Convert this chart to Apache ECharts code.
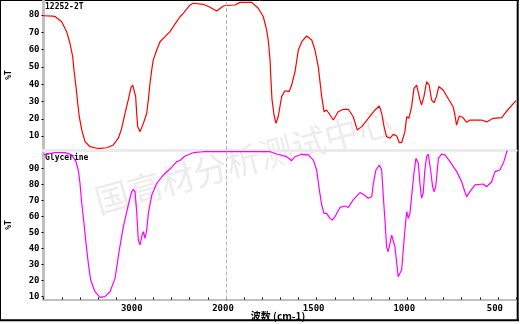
<!DOCTYPE html>
<html>
<head>
<meta charset="utf-8">
<script src="https://cdn.jsdelivr.net/npm/echarts@6/dist/echarts.min.js"></script>
<style>
html,body{margin:0;padding:0;background:#fff;}
#chart{width:520px;height:324px;}
</style>
</head>
<body>
<div id="chart"></div>
<script>
// ---- data ----
const topTitle = '12252-2T';
const bottomTitle = 'Glycerine';
const yName = '%T';
const xName = '波数 (cm-1)';
const watermark = '国高材分析测试中心';

const topWavenumber = [4000,3896,3874,3801,3746,3710,3680,3666,3644,3625,
  3608,3581,3545,3490,3417,3381,3307,3235,3180,3143,
  3107,3071,3041,3022,3005,2990,2979,2968,2942,2913,
  2899,2869,2851,2833,2814,2797,2759,2723,2668,2614,
  2559,2504,2468,2394,2358,2249,2175,2102,2029,2000,
  1950,1923,1858,1822,1794,1776,1767,1757,1752,1746,
  1735,1724,1712,1693,1675,1651,1638,1619,1601,1582,
  1555,1527,1509,1491,1472,1459,1445,1426,1408,1381,
  1353,1325,1298,1276,1251,1215,1178,1154,1141,1128,
  1114,1095,1077,1058,1044,1031,1013,1003,991,976,
  963,948,930,921,908,893,879,866,852,839,
  826,802,775,747,737,728,713,694,672,654,
  590,562,526,479,451,400];
const topTransmittance = [79.5,79.3,79,76,70.3,63.6,55.9,48.2,38.6,29,
  21.2,13.6,6.8,3.9,3.0,2.9,3.3,4.9,8.8,14.5,
  23.2,30.9,38.2,39.4,38.6,32.8,23.2,15.5,12.6,16.4,
  18.4,23.2,30.9,40.5,48.2,54,59.7,64.5,67.4,70.3,
  74.7,78.9,80.9,85.7,86.7,86.1,84.4,82.2,85.1,85.4,
  85.7,87.2,87.2,83.8,78.9,71.3,65.5,54,42.4,30.9,
  22.2,17.4,21.2,32.8,36.2,35.7,39.5,47.3,59.7,64.5,
  67.8,65.5,59.7,50.1,32.8,24.1,25.1,22.2,19.3,24.1,
  25.5,25.5,21.2,13.6,15.5,20.3,25.1,27.4,23.2,15.5,
  9.7,8.8,11,10.1,6.2,6.2,12.6,21.2,20.3,27,
  37.6,39.5,30.9,28,32.8,41.4,39.5,30.9,29.3,32.8,
  38.6,36.6,31.9,27,22.2,16.4,21.6,20.9,18,19.3,
  19.3,18.2,20.3,20.7,24.5,30.5];

const bottomWavenumber = [4000,3874,3764,3691,3644,3619,3600,3581,3556,3534,
  3509,3483,3436,3381,3326,3271,3216,3169,3125,3071,
  3033,3016,2997,2979,2961,2942,2920,2906,2888,2869,
  2851,2814,2759,2687,2614,2540,2504,2449,2358,2249,
  2000,1757,1720,1665,1638,1619,1582,1546,1518,1500,
  1485,1472,1459,1445,1426,1414,1399,1371,1344,1325,
  1298,1261,1243,1215,1196,1187,1173,1154,1141,1132,
  1123,1114,1105,1095,1086,1077,1068,1058,1050,1040,
  1031,1022,1013,1003,994,985,976,963,952,939,
  930,921,912,903,893,884,871,860,852,843,
  828,810,792,764,727,700,682,672,654,626,
  581,562,534,516,489,479,467,451,440];
const bottomTransmittance = [98.5,99.7,99.7,98.3,94.1,88.9,80.6,68.2,55.7,43.2,
  30.8,20.4,13.1,9.6,10,13.1,21.4,39.1,53.6,67.1,
  75.4,76.9,75.4,63,45.3,42.2,48.4,50.5,46.3,51.5,
  61.9,73.2,80.6,85.8,89.5,94.1,94.8,97.6,99.7,100.3,
  100.3,100.3,98.9,97.2,94.7,97.2,98.7,98.3,95.1,88.9,
  76.5,67.1,61.9,61.9,58.8,57.7,59.8,65.6,66.5,65.6,
  70.3,74.8,73.8,71.3,72.3,80.6,88.9,92,88.9,72.3,
  57.8,41.1,38,43.3,48.4,47.4,41.1,30.8,22.4,21.4,
  26.6,39.1,51.5,63,58.8,61.9,72.3,86.9,96.2,93.1,
  80.6,71.3,74.4,88.9,97.2,98.9,88.9,78.5,75.4,78.5,
  96.2,98.9,98.3,94.1,87.9,81.6,75.4,72.3,75.4,79.6,
  80.2,78.5,81.6,87.9,88.9,88.9,94.1,100.3,104];

const topYTicks = [10,20,30,40,50,60,70,80];
const bottomYTicks = [10,20,30,40,50,60,70,80,90];
const xTicksLeft = [3000];
const xTicksRight = [2000,1500,1000,500];
const breakWavenumber = 2000;

// ---- build ----
function pairs(ws, ts, keep) {
  const out = [];
  for (let i = 0; i < ws.length; i++) if (keep(ws[i])) out.push([ws[i], ts[i]]);
  return out;
}
const hi = w => w >= breakWavenumber;
const lo = w => w <= breakWavenumber;
const plain = v => String(v);

const mono = 'DejaVu Sans Mono';
const gL = 43.5, gMid = 226, gR = 516;
const grids = [
  {left: gL, top: 1, width: gMid - gL, height: 149},
  {left: gMid, top: 1, width: gR - gMid, height: 149},
  {left: gL, top: 151, width: gMid - gL, height: 148.5},
  {left: gMid, top: 151, width: gR - gMid, height: 148.5}
].map(g => Object.assign({containLabel: false, outerBoundsMode: 'none'}, g));

function xAx(gi, min, max, interval, labels, bottomAxis) {
  return {
    type: 'value', gridIndex: gi, inverse: true, min: min, max: max, interval: interval,
    axisLine: {show: true, onZero: false, lineStyle: {color: bottomAxis ? '#c0c0c0' : '#ebebeb', width: bottomAxis ? 2 : 3}},
    axisTick: {show: bottomAxis, inside: true, length: 2, lineStyle: {color: '#000', width: 1}},
    axisLabel: bottomAxis ? {show: true, customValues: labels, formatter: plain, fontFamily: mono, fontSize: 9, fontWeight: 'bold', color: '#000', margin: 5, padding: [0, 6, 0, 0]} : {show: false},
    splitLine: {show: false}
  };
}
function yAx(gi, min, max, labels, show) {
  return {
    type: 'value', gridIndex: gi, min: min, max: max, show: show,
    axisLine: {show: show, lineStyle: {color: '#c0c0c0', width: 3}},
    axisTick: {show: show, length: 2, customValues: labels, lineStyle: {color: '#000'}},
    axisLabel: {show: show, customValues: labels, formatter: plain, fontFamily: mono, fontSize: 9, fontWeight: 'bold', color: '#000', margin: 4},
    splitLine: {show: false}
  };
}
const markL = {
  silent: true, symbol: ['none', 'none'], label: {show: false},
  lineStyle: {type: 'dashed', color: '#b4b4b4', width: 1},
  data: [{xAxis: breakWavenumber}]
};
function ser(i, data, color, withMark) {
  const s = {
    type: 'line', xAxisIndex: i, yAxisIndex: i, data: data, showSymbol: false,
    lineStyle: {color: color, width: 1.2}, itemStyle: {color: color}, clip: true, z: 3
  };
  if (withMark) s.markLine = markL;
  return s;
}

const chart = echarts.init(document.getElementById('chart'), null, {renderer: 'canvas'});
chart.setOption({
  animation: false,
  backgroundColor: '#fff',
  grid: grids,
  xAxis: [
    xAx(0, 2000, 4000, 200, [], false),
    xAx(1, 400, 2000, 100, [], false),
    xAx(2, 2000, 4000, 200, xTicksLeft, true),
    xAx(3, 400, 2000, 100, xTicksRight, true)
  ],
  yAxis: [
    yAx(0, 2, 88, topYTicks, true),
    yAx(1, 2, 88, topYTicks, false),
    yAx(2, 8.25, 100.75, bottomYTicks, true),
    yAx(3, 8.25, 100.75, bottomYTicks, false)
  ],
  series: [
    ser(0, pairs(topWavenumber, topTransmittance, hi), '#ff0000', false),
    ser(1, pairs(topWavenumber, topTransmittance, lo), '#ff0000', true),
    ser(2, pairs(bottomWavenumber, bottomTransmittance, hi), '#ff00ff', false),
    ser(3, pairs(bottomWavenumber, bottomTransmittance, lo), '#ff00ff', true)
  ],
  graphic: [
    {type: 'text', z: -10, x: 243, y: 161, rotation: 0.27, silent: true,
     style: {text: watermark, font: '34px "Noto Sans CJK SC"', fill: '#ececec', align: 'center', verticalAlign: 'middle'}},
    {type: 'text', x: 45, y: 7, style: {text: topTitle, font: 'bold 8px "DejaVu Sans Mono"', fill: '#000', verticalAlign: 'middle'}},
    {type: 'text', x: 45, y: 157.5, style: {text: bottomTitle, font: 'bold 8px "DejaVu Sans Mono"', fill: '#000', verticalAlign: 'middle'}},
    {type: 'text', x: 9, y: 75, rotation: Math.PI / 2, style: {text: yName, font: 'bold 8px "DejaVu Sans Mono"', fill: '#000', align: 'center', verticalAlign: 'middle'}},
    {type: 'text', x: 9, y: 225, rotation: Math.PI / 2, style: {text: yName, font: 'bold 8px "DejaVu Sans Mono"', fill: '#000', align: 'center', verticalAlign: 'middle'}},
    {type: 'text', x: 278, y: 316, style: {text: xName, font: 'bold 10px "Noto Sans CJK SC"', fill: '#000', align: 'center', verticalAlign: 'middle'}},
    {type: 'line', shape: {x1: 0.5, y1: 0, x2: 0.5, y2: 321}, style: {stroke: '#000', lineWidth: 1}},
    {type: 'line', shape: {x1: 0, y1: 0.5, x2: 519, y2: 0.5}, style: {stroke: '#000', lineWidth: 1}},
    {type: 'line', shape: {x1: 517.7, y1: 0, x2: 517.7, y2: 321}, style: {stroke: '#000', lineWidth: 2}},
    {type: 'line', shape: {x1: 0, y1: 320.2, x2: 519, y2: 320.2}, style: {stroke: '#000', lineWidth: 2}}
  ]
});
</script>
</body>
</html>
